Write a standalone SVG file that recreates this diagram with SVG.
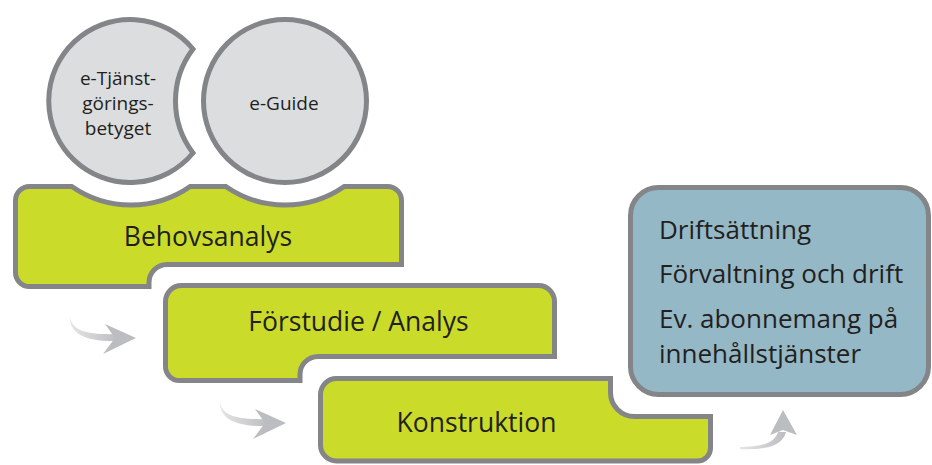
<svg xmlns="http://www.w3.org/2000/svg" width="932" height="465" viewBox="0 0 932 465">
  <defs>
    <style>
      .stage { fill: #cadb29; stroke: #848588; stroke-width: 5; stroke-linejoin: miter; }
      .bubble { fill: #dcdddf; stroke: #848588; stroke-width: 5; stroke-linejoin: miter; }
      .ops { fill: #94b8c6; stroke: #848588; stroke-width: 5; }
      .t { font-family: "Open Sans", "Noto Sans", "Liberation Sans", sans-serif; fill: #231f20; }
      .big { font-size: 26.5px; text-anchor: middle; }
      .small { font-size: 19px; text-anchor: middle; }
      .list { font-size: 26px; }
      .arrow { fill: #bcbdc0; }
    </style>
    <linearGradient id="tailFade" x1="0" y1="0" x2="1" y2="0">
      <stop offset="0" stop-color="#e4e5e6"/>
      <stop offset="1" stop-color="#bcbdc0"/>
    </linearGradient>
    <g id="curlArrow">
      <path fill="url(#tailFade)" d="M70,316 C71,331 88,335 118,334 L118,341 C86,342 69,334 70,316 Z"/>
      <path class="arrow" d="M105,324 L136,338 L103,354 L115,338 Z"/>
    </g>
  </defs>

  <g id="node-etjanst">
    <path class="bubble" d="M193,49 A81.5,81.5 0 1 0 193,153 A86,86 0 0 1 193,49 Z"/>
    <text class="t small" x="118" y="85">e-Tjänst-</text>
    <text class="t small" x="118" y="110">görings-</text>
    <text class="t small" x="118" y="135">betyget</text>
  </g>

  <g id="node-eguide">
    <circle class="bubble" cx="285" cy="101" r="81.5"/>
    <text class="t small" x="284" y="110">e-Guide</text>
  </g>

  <g id="node-behovsanalys">
    <path class="stage" d="M15.5,200.5 A14,14 0 0 1 29.5,186.5 L71.8,186.5 A104,104 0 0 0 190.2,186.5 L225.8,186.5 A104,104 0 0 0 344.2,186.5 L387.5,186.5 A14,14 0 0 1 401.5,200.5 L401.5,264.5 L167,264.5 A18,18 0 0 0 149,282.5 L149,286.5 L29.5,286.5 A14,14 0 0 1 15.5,272.5 Z"/>
    <text class="t big" x="208" y="246">Behovsanalys</text>
  </g>

  <g id="node-forstudie">
    <path class="stage" d="M165.5,301.5 A16,16 0 0 1 181.5,285.5 L538.5,285.5 A16,16 0 0 1 554.5,301.5 L554.5,356.5 L318,356.5 A18,18 0 0 0 300,374.5 L300,380.5 L179.5,380.5 A14,14 0 0 1 165.5,366.5 Z"/>
    <text class="t big" x="358.5" y="331">Förstudie / Analys</text>
  </g>

  <g id="node-konstruktion">
    <path class="stage" d="M320.5,394.5 A16,16 0 0 1 336.5,378.5 L610.5,378.5 L610.5,392.5 A24,24 0 0 0 634.5,416.5 L710.5,416.5 L710.5,448 A13,13 0 0 1 697.5,461 L336.5,461 A16,16 0 0 1 320.5,445 Z"/>
    <text class="t big" x="476.5" y="432">Konstruktion</text>
  </g>

  <g id="node-drift">
    <rect class="ops" x="630.5" y="187.5" width="298" height="207" rx="28" ry="28"/>
    <text class="t list" x="659" y="239">Driftsättning</text>
    <text class="t list" x="659" y="283">Förvaltning och drift</text>
    <text class="t list" x="659" y="328">Ev. abonnemang på</text>
    <text class="t list" x="659" y="363">innehållstjänster</text>
  </g>

  <g id="connectors">
    <use href="#curlArrow"/>
    <use href="#curlArrow" transform="translate(150,85)"/>
    <path fill="url(#tailFade)" d="M740,447 C760,447 774,444 778,432 L786,432 C782,447 764,450 740,449 Z"/>
    <path class="arrow" d="M783,410 L797,435 L783,430 L770,435 Z"/>
  </g>
</svg>
